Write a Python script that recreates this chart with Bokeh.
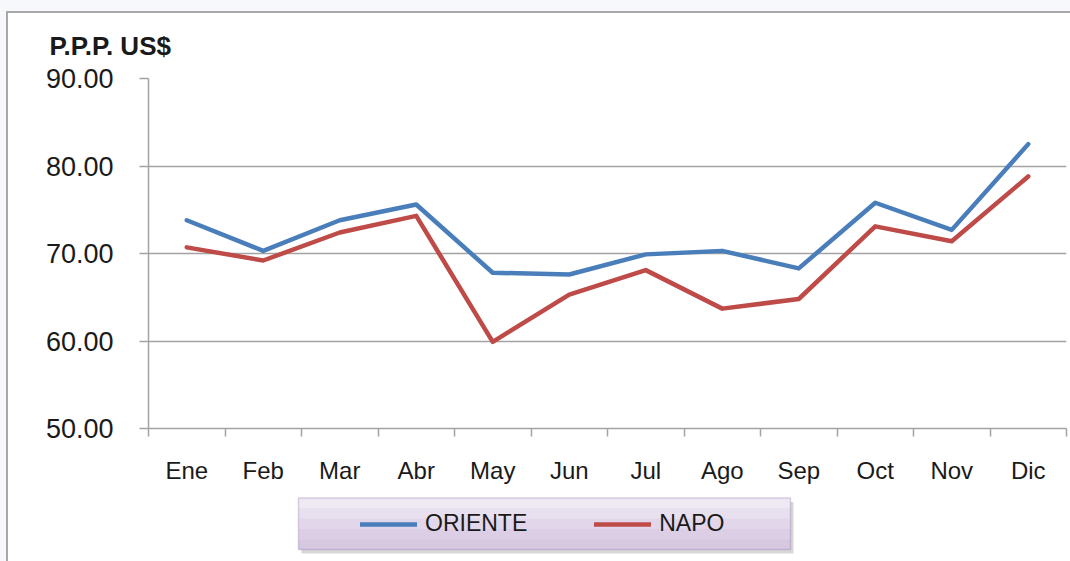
from bokeh.plotting import figure
from bokeh.models import Range1d, FixedTicker, PrintfTickFormatter, Legend, LegendItem, BoxAnnotation
from bokeh.layouts import column
from bokeh.embed import file_html
from bokeh.resources import INLINE

months = ["Ene", "Feb", "Mar", "Abr", "May", "Jun", "Jul", "Ago", "Sep", "Oct", "Nov", "Dic"]
oriente = [73.8, 70.3, 73.8, 75.6, 67.8, 67.6, 69.9, 70.3, 68.3, 75.8, 72.7, 82.5]
napo = [70.7, 69.2, 72.4, 74.3, 59.9, 65.3, 68.1, 63.7, 64.8, 73.1, 71.4, 78.8]
y_ticks = [50, 60, 70, 80, 90]
series_names = ["ORIENTE", "NAPO"]
title_text = "P.P.P. US$"

FONT = "Liberation Sans"
GRID = "#a3a3a3"
FRAME = "2px solid #a8a8a8"
BLUE = "#4a7ebb"
RED = "#be4b48"
TXT = "#1a1a1a"

xs = list(range(1, len(months) + 1))

# ---------------- main chart ----------------
p = figure(width=1062, height=477, output_backend="svg", toolbar_location=None,
           x_range=Range1d(0.5, len(months) + 0.5), y_range=Range1d(y_ticks[0], y_ticks[-1]),
           min_border_left=140, min_border_right=4, min_border_top=65, min_border_bottom=62,
           title=title_text)
p.border_fill_color = "white"
p.background_fill_color = "white"
p.outline_line_color = None

p.title.align = "left"
p.title.vertical_align = "top"
p.title.offset = -99
p.title.standoff = 32
p.title.text_font = FONT
p.title.text_font_size = "26px"
p.title.text_font_style = "bold"
p.title.text_color = TXT

xax = p.xaxis[0]
xax.ticker = FixedTicker(ticks=xs, minor_ticks=[i + 0.5 for i in range(0, len(months) + 1)])
xax.major_label_overrides = {x: m for x, m in zip(xs, months)}
xax.major_tick_out = 0
xax.major_tick_in = 0
xax.minor_tick_out = 8
xax.minor_tick_in = 0
xax.minor_tick_line_color = GRID
xax.minor_tick_line_width = 1.5
xax.axis_line_color = GRID
xax.axis_line_width = 1.5
xax.major_label_standoff = 20
xax.major_label_text_font = FONT
xax.major_label_text_font_size = "24px"
xax.major_label_text_color = TXT

yax = p.yaxis[0]
yax.ticker = FixedTicker(ticks=y_ticks, minor_ticks=[])
yax.formatter = PrintfTickFormatter(format="%.2f")
yax.major_tick_out = 9
yax.major_tick_in = 0
yax.major_tick_line_color = GRID
yax.major_tick_line_width = 1.5
yax.minor_tick_out = 0
yax.minor_tick_in = 0
yax.axis_line_color = GRID
yax.axis_line_width = 1.5
yax.major_label_standoff = 26
yax.major_label_text_font = FONT
yax.major_label_text_font_size = "27px"
yax.major_label_text_color = TXT

p.xgrid.visible = False
p.ygrid.ticker = FixedTicker(ticks=y_ticks)
p.ygrid.grid_line_color = GRID
p.ygrid.grid_line_width = 1.5

p.line(xs, oriente, line_color=BLUE, line_width=4.5, line_cap="round", line_join="round")
p.line(xs, napo, line_color=RED, line_width=4.5, line_cap="round", line_join="round")

# ---------------- legend strip (coordinates = page pixels) ----------------
q = figure(width=1062, height=71, output_backend="svg", toolbar_location=None,
           x_range=Range1d(148, 1066), y_range=Range1d(561, 490),
           x_axis_location=None, y_axis_location=None,
           min_border_left=140, min_border_right=4, min_border_top=0, min_border_bottom=0)
q.border_fill_color = "white"
q.background_fill_color = "white"
q.outline_line_color = None
q.grid.visible = False

L, R, T, B = 298, 790, 497.5, 549
q.add_layout(BoxAnnotation(left=L + 3, right=R + 3, top=T + 4, bottom=B + 4,
                           fill_color="#7a7a7a", fill_alpha=0.3, line_color=None))
bands = ["#efe9f3", "#e9e0ef", "#e2d7ea", "#dccfe5", "#d6c8e0"]
h = (B - T) / len(bands)
for i, c in enumerate(bands):
    q.add_layout(BoxAnnotation(left=L, right=R, top=T + i * h, bottom=T + (i + 1) * h + 0.3,
                               fill_color=c, fill_alpha=1, line_color=None))
q.add_layout(BoxAnnotation(left=L, right=R, top=T, bottom=B,
                           fill_alpha=0, line_color="#8c70ab", line_width=1.5))

# legend proxies: same series and styles, lying outside this strip's visible range
g1 = q.line(xs, oriente, line_color=BLUE, line_width=4.5, line_cap="round")
g2 = q.line(xs, napo, line_color=RED, line_width=4.5, line_cap="round")
legend = Legend(items=[LegendItem(label=series_names[0], renderers=[g1]),
                       LegendItem(label=series_names[1], renderers=[g2])],
                orientation="horizontal", location=(212, 24),
                background_fill_alpha=0, border_line_color=None,
                padding=0, margin=0, spacing=67, label_width=20,
                glyph_width=57, glyph_height=20, label_standoff=8,
                label_text_font=FONT, label_text_font_size="23px", label_text_color=TXT)
q.add_layout(legend, "center")

layout = column(p, q, spacing=0)
layout.margin = (11, 0, 0, 6)
layout.styles = {"border-left": FRAME, "border-top": FRAME, "background-color": "white"}
html = file_html(layout, INLINE)
html = html.replace("<head>", "<head><style>body{background:#f7f8fb;}</style>", 1)
open("out.html", "w").write(html)
